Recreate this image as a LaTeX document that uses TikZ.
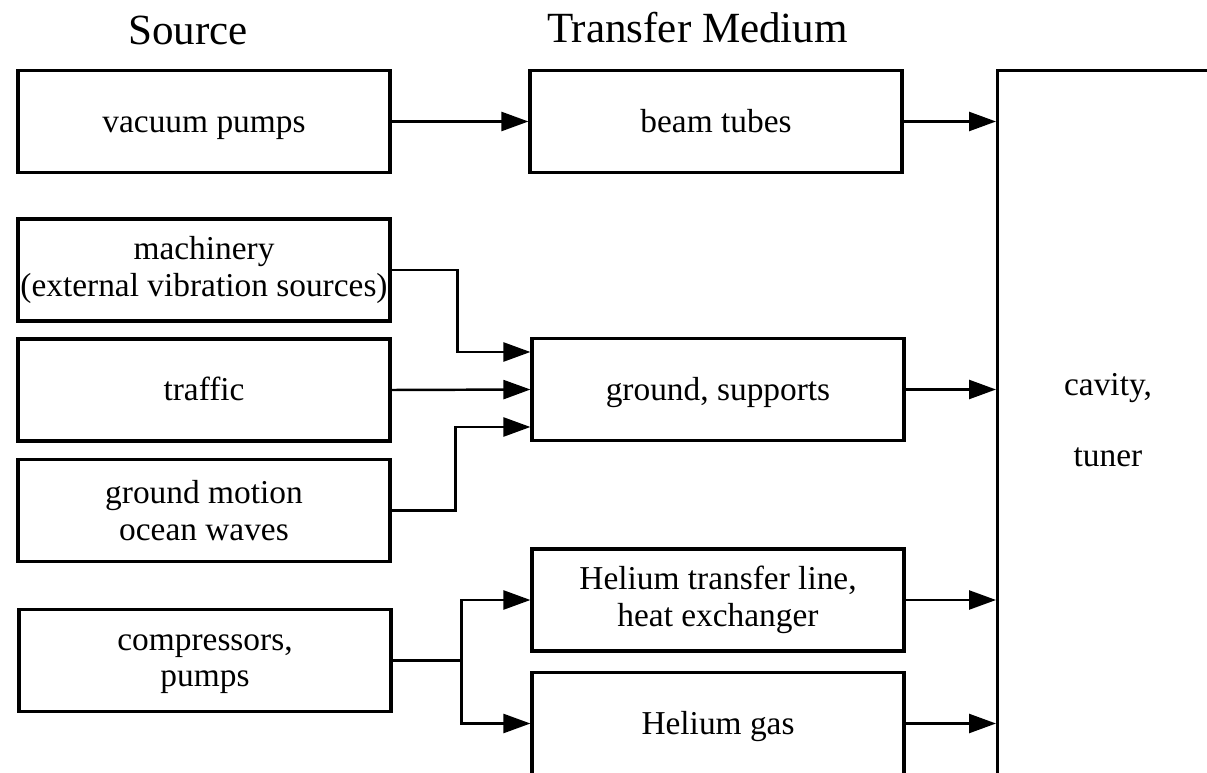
\documentclass[tikz,border=0pt]{standalone}
\usepackage{fontspec}
\setmainfont{Liberation Serif}
\usetikzlibrary{calc,arrows.meta}

\begin{document}
\begin{tikzpicture}[
    box/.style={draw,line width=1.8pt,minimum width=7.44cm,minimum height=2.04cm,inner sep=0pt,align=center,font=\fontsize{19}{21}\selectfont},
    oneline/.style={text height=14pt,text depth=2pt},
    ttl/.style={font=\fontsize{24.5}{28}\selectfont},
    arr/.style={line width=1.4pt,-{Triangle[length=0.54cm,width=0.38cm]}},
    wire/.style={line width=1.4pt}]
              \useasboundingbox (0,0) rectangle (24.14,15.44);
              \clip (0,0) rectangle (24.14,15.44);
              \node[ttl](src)at(3.76,14.84){Source};
              \node[ttl](med)at(13.95,14.89){Transfer Medium};
              \node[box,oneline](vac)at(4.08,13.01){vacuum pumps};
              \node[box](mach)at(4.08,10.04){machinery\\(external vibration sources)};
              \node[box,oneline](traf)at(4.08,7.64){traffic};
              \node[box](gmot)at(4.08,5.23){ground motion\\ocean waves};
              \node[box](comp)at(4.10,2.23){compressors,\vphantom{l}\\pumps};
              \node[box,oneline](beam)at(14.32,13.01){beam tubes};
              \node[box,oneline](grnd)at(14.36,7.65){ground, supports};
              \node[box](hetl)at(14.36,3.44){Helium transfer line,\\heat exchanger\vphantom{p}};
              \node[box,oneline](hgas)at(14.36,0.97){Helium gas};
              \node[draw,line width=1.8pt,minimum width=6cm,minimum height=16cm,anchor=north west](cav)at(19.92,14.06){};
              \node[font=\fontsize{19}{21}\selectfont,align=center](cavtxt)at(22.16,7.04){cavity,\\[19pt]tuner};
              \draw[arr] (vac.east) -- (beam.west);
              \draw[arr] (mach.east) -- ++(1.32,0) |- ([yshift=0.75cm]grnd.west);
              \draw[arr] (traf.east) -- (grnd.west);
              \draw[arr] (gmot.east) -- ++(1.28,0) |- ([yshift=-0.75cm]grnd.west);
              \draw[wire] (comp.east) -- ++(1.38,0) coordinate(hej);
              \draw[arr] (hej) |- (hetl.west);
              \draw[arr] (hej) |- (hgas.west);
              \draw[arr] (beam.east) -- (beam.east -| cav.west);
              \draw[arr] (grnd.east) -- (grnd.east -| cav.west);
              \draw[arr] (hetl.east) -- (hetl.east -| cav.west);
              \draw[arr] (hgas.east) -- (hgas.east -| cav.west);
            \end{tikzpicture}
\end{document}
